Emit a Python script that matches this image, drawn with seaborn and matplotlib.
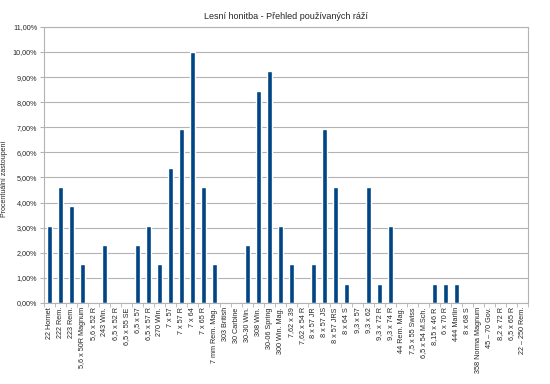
import numpy as np
import pandas as pd
import matplotlib
matplotlib.use("Agg")
import matplotlib.pyplot as plt
import seaborn as sns
from matplotlib.ticker import FuncFormatter, FixedLocator

calibers = ["22 Hornet", "222 Rem.", "223 Rem.", "5,6 x 50R Magnum", "5,6 x 52 R",
            "243 Win.", "6,5 x 52 R", "6,5 x 55 SE", "6,5 x 57", "6,5 x 57 R",
            "270 Win.", "7 x 57", "7 x 57 R", "7 x 64", "7 x 65 R",
            "7 mm Rem. Mag.", "303 British", "30 Carbine", "30-30 Win.", "308 Win.",
            "30-06 Spring", "300 Win. Mag.", "7,62 x 39", "7,62 x 54 R", "8 x 57 JR",
            "8 x 57 JS", "8 x 57 JRS", "8 x 64 S", "9,3 x 57", "9,3 x 62",
            "9,3 x 72 R", "9,3 x 74 R", "44 Rem. Mag.", "7,5 x 55 Swiss", "6,5 x 54 M.Sch.",
            "8,15 x 46 R", "6 x 70 R", "444 Marlin", "8 x 68 S", "358 Norma Magnum",
            "45 – 70 Gov.", "8,2 x 72 R", "6,5 x 65 R", "22 – 250 Rem."]
share = [3.08, 4.62, 3.85, 1.54, 0,
         2.31, 0, 0, 2.31, 3.08,
         1.54, 5.38, 6.92, 10.0, 4.62,
         1.54, 0, 0, 2.31, 8.46,
         9.23, 3.08, 1.54, 0, 1.54,
         6.92, 4.62, 0.77, 0, 4.62,
         0.77, 3.08, 0, 0, 0,
         0.77, 0.77, 0.77, 0, 0,
         0, 0, 0, 0]

df = pd.DataFrame({"raze": calibers, "podil": share})

sns.set_style("white")
plt.rcParams["font.family"] = ["Liberation Sans", "DejaVu Sans"]

fig = plt.figure(figsize=(5.5, 3.84), dpi=100)
ax = fig.add_axes([0.08, 0.211, 0.88, 0.719])
sns.barplot(data=df, x="raze", y="podil", color="#004586", width=0.52,
            saturation=1, ax=ax)

ax.set_ylim(0, 11)
ax.set_xlim(-0.5, len(calibers) - 0.5)
ax.set_yticks(np.arange(0, 12, 1))
ax.yaxis.set_major_formatter(FuncFormatter(lambda v, p: ("%.2f%%" % v).replace(".", ",")))
ax.yaxis.grid(True, color="#b3b3b3", linewidth=0.8)
ax.set_axisbelow(True)

ax.set_xticks(range(len(calibers)))
ax.set_xticklabels(calibers, rotation=90, fontsize=5.2)
ax.xaxis.set_minor_locator(FixedLocator(np.arange(-0.5, len(calibers), 1)))
ax.tick_params(axis="x", which="major", length=0, pad=3)
ax.tick_params(axis="x", which="minor", length=3, color="#b3b3b3", bottom=True)
ax.tick_params(axis="y", length=3, color="#b3b3b3", left=True, labelsize=5.2, pad=2)

for s in ax.spines.values():
    s.set_color("#b3b3b3")
    s.set_linewidth(0.8)

ax.set_xlabel("")
ax.set_ylabel("Procentuální zastoupení", fontsize=5)
ax.yaxis.set_label_coords(-0.074, 0.45)
ax.set_title("Lesní honitba - Přehled používaných ráží", fontsize=6.5, pad=6)

fig.savefig("out.png", dpi=100, facecolor="white")
